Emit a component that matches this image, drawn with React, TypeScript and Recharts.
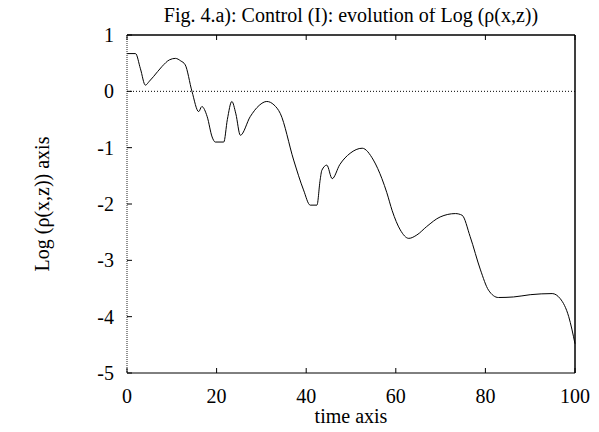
import { LineChart, Line, XAxis, YAxis, ReferenceLine } from "recharts";

const timeValues = [
  0, 1.9, 3.0, 4.1, 5.0, 5.9, 7.8, 9.5, 10.8, 12.0, 13.0, 14.5, 16.0, 16.7, 17.9, 19.0, 19.7, 21.6, 22.4,
  23.4, 24.3, 25.3, 27.5, 29.5, 31.2, 32.8, 34.2, 37.2, 39.4, 40.9, 42.4, 43.1, 43.5, 44.6, 45.8, 47.5,
  49.8, 52.5, 55.0, 56.9, 58.0, 59.2, 61.0, 62.9, 64.7, 66.9, 69.9, 73.3, 74.8, 76.6, 78.9, 80.7, 82.9,
  86.3, 90.0, 94.9, 96.7, 98.6, 100,
];

const logRho = [
  0.67, 0.67, 0.4, 0.11, 0.18, 0.26, 0.44, 0.56, 0.585, 0.54, 0.47, 0.0, -0.36, -0.27, -0.45, -0.81, -0.9,
  -0.9, -0.5, -0.18, -0.4, -0.78, -0.45, -0.25, -0.18, -0.24, -0.39, -1.22, -1.75, -2.02, -2.02, -1.58,
  -1.4, -1.31, -1.55, -1.3, -1.1, -1.01, -1.22, -1.55, -1.8, -2.12, -2.46, -2.61, -2.55, -2.4, -2.23,
  -2.17, -2.2, -2.58, -3.17, -3.53, -3.66, -3.65, -3.61, -3.59, -3.68, -4.0, -4.48,
];

const xTicks = [0, 20, 40, 60, 80, 100];
const yTicks = [-5, -4, -3, -2, -1, 0, 1];

const font = "'Liberation Serif', 'Times New Roman', serif";
const TICK_LEN = 5;
const X_GAP = 16;
const Y_GAP = 13;

// gnuplot-style ticks: short marks pointing into the plot, labels outside
const BottomTick = (props: any) => {
  const { x, y, payload } = props;
  const axisY = y - X_GAP;
  return (
    <g>
      <line x1={x} x2={x} y1={axisY} y2={axisY - TICK_LEN} stroke="#000" />
      <text x={x} y={y} dy="0.71em" textAnchor="middle" fontSize={20} fontFamily={font} fill="#000">
        {payload.value}
      </text>
    </g>
  );
};

const TopTick = (props: any) => {
  const { x, y } = props;
  return <line x1={x} x2={x} y1={y} y2={y + TICK_LEN} stroke="#000" />;
};

const LeftTick = (props: any) => {
  const { x, y, payload } = props;
  const axisX = x + Y_GAP;
  return (
    <g>
      <line x1={axisX} x2={axisX + TICK_LEN} y1={y} y2={y} stroke="#000" />
      <text x={x} y={y} dy="0.355em" textAnchor="end" fontSize={20} fontFamily={font} fill="#000">
        {payload.value}
      </text>
    </g>
  );
};

const RightTick = (props: any) => {
  const { x, y } = props;
  return <line x1={x} x2={x - TICK_LEN} y1={y} y2={y} stroke="#000" />;
};

export default function App() {
  const data = timeValues.map((t, i) => ({ t, v: logRho[i] }));

  return (
    <div style={{ margin: -8, width: 599, height: 432, position: "relative", background: "#fff" }}>
      <LineChart width={599} height={432} data={data} margin={{ top: 34, right: 23, bottom: 0, left: 0 }}>
        <XAxis
          xAxisId="b"
          dataKey="t"
          type="number"
          domain={[0, 100]}
          ticks={xTicks}
          height={59}
          tickSize={0}
          tickMargin={X_GAP}
          tick={<BottomTick />}
          axisLine={{ stroke: "#000" }}
          tickLine={false}
        />
        <XAxis
          xAxisId="top"
          dataKey="t"
          type="number"
          orientation="top"
          domain={[0, 100]}
          ticks={xTicks}
          height={1}
          tickSize={0}
          tickMargin={0}
          tick={<TopTick />}
          axisLine={{ stroke: "#000" }}
          tickLine={false}
        />
        <YAxis
          yAxisId="l"
          type="number"
          domain={[-5, 1]}
          ticks={yTicks}
          width={127}
          tickSize={0}
          tickMargin={Y_GAP}
          tick={<LeftTick />}
          axisLine={{ stroke: "#222", strokeDasharray: "1 1" }}
          tickLine={false}
        />
        <YAxis
          yAxisId="r"
          type="number"
          orientation="right"
          domain={[-5, 1]}
          ticks={yTicks}
          width={1}
          tickSize={0}
          tickMargin={0}
          tick={<RightTick />}
          axisLine={{ stroke: "#000" }}
          tickLine={false}
        />
        <ReferenceLine xAxisId="b" yAxisId="l" y={0} stroke="#000" strokeWidth={1} strokeDasharray="1 2" />
        <ReferenceLine xAxisId="b" yAxisId="l" y={1} stroke="#000" />
        <ReferenceLine xAxisId="b" yAxisId="l" x={100} stroke="#000" />
        <Line
          xAxisId="b"
          yAxisId="l"
          type="monotone"
          dataKey="v"
          stroke="#000"
          strokeWidth={1}
          dot={false}
          isAnimationActive={false}
        />
      </LineChart>
      <div
        style={{
          position: "absolute",
          top: 4,
          left: 0,
          width: 702,
          textAlign: "center",
          fontFamily: font,
          fontSize: 20,
          whiteSpace: "nowrap",
        }}
      >
        Fig. 4.a): Control (I): evolution of Log (ρ(x,z))
      </div>
      <div
        style={{
          position: "absolute",
          top: 405,
          left: 0,
          width: 702,
          textAlign: "center",
          fontFamily: font,
          fontSize: 20,
          lineHeight: "22px",
        }}
      >
        time axis
      </div>
      <div
        style={{
          position: "absolute",
          left: 42,
          top: 204,
          transform: "translate(-50%, -50%) rotate(-90deg)",
          fontFamily: font,
          fontSize: 20,
          whiteSpace: "nowrap",
        }}
      >
        Log (ρ(x,z)) axis
      </div>
    </div>
  );
}
